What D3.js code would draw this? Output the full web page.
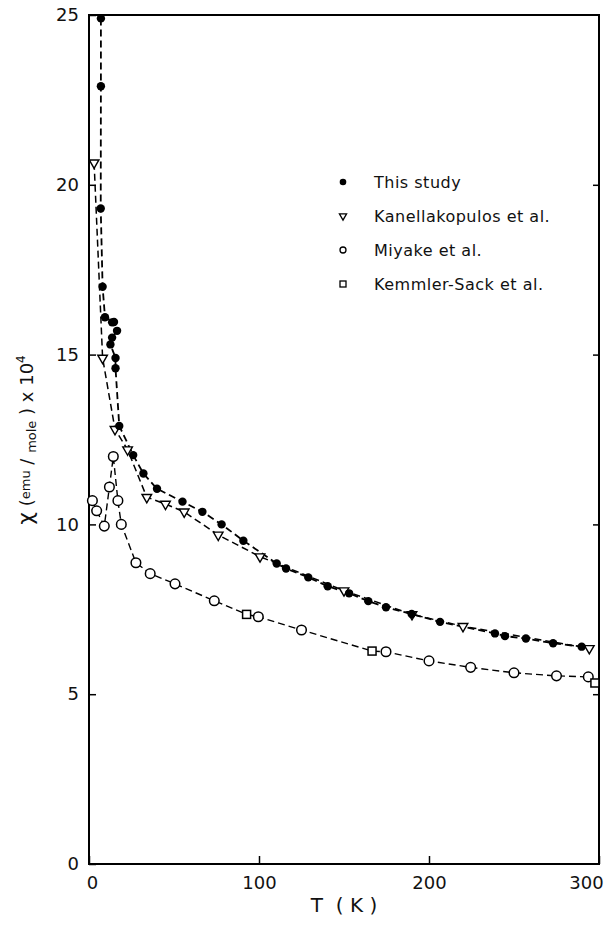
<!DOCTYPE html>
<html><head><meta charset="utf-8">
<script src="https://cdn.jsdelivr.net/npm/d3@7"></script>
<style>body{margin:0;background:#fff}svg{display:block}text{font-family:"DejaVu Sans","Noto Sans",sans-serif;fill:#111}</style>
</head><body><svg id="c" width="614" height="927"></svg>
<script>
// ---- data (T in K, chi in emu/mole x 10^4) ----
const studyT   = [7,7,6.9,8,9.4,14.7,13.6,16.5,13.6,12.6,15.6,15.6,17.8,26,32,40,55,66.7,78,90.8,110.4,115.9,129,140.4,153,164.3,174.7,189.8,206.5,238.8,244.7,257,273,289.8];
const studyChi = [24.9,22.9,19.3,17.0,16.1,15.96,15.95,15.7,15.5,15.3,14.9,14.6,12.9,12.04,11.5,11.05,10.67,10.37,10.0,9.52,8.85,8.70,8.44,8.18,7.97,7.74,7.56,7.36,7.13,6.79,6.71,6.64,6.50,6.40];
const kanT     = [3,8,15.3,22.7,34,45,56,76,100.6,150,190,220,294.3];
const kanChi   = [20.65,14.9,12.8,12.2,10.8,10.6,10.37,9.69,9.05,8.05,7.35,7.0,6.35];
const miyT     = [2,4.5,9,12,14.3,17,19,27.6,36,50.6,73.7,99.6,125,174.7,200,224.5,250,275,293.7];
const miyChi   = [10.7,10.4,9.95,11.1,12.0,10.7,10.0,8.87,8.55,8.25,7.75,7.28,6.89,6.25,5.98,5.79,5.63,5.54,5.51];
const kemT     = [92.7,166.5,297.6];
const kemChi   = [7.35,6.27,5.33];
const xTicks = [0,100,200,300];
const yTicks = [0,5,10,15,20,25];
const legendLabels = ["This study","Kanellakopulos et al.","Miyake et al.","Kemmler-Sack et al."];

const svg = d3.select("#c");
const L=89,R=599,T=15,B=864;
const x = d3.scaleLinear().domain([0,300]).range([L,R]);
const y = d3.scaleLinear().domain([0,25]).range([B,T]);

// frame
svg.append("rect").attr("x",L).attr("y",T).attr("width",R-L).attr("height",B-T)
  .attr("fill","none").attr("stroke","#000").attr("stroke-width",2);

// axes (ticks inward)
const gx = svg.append("g").attr("transform",`translate(0,${B})`)
  .call(d3.axisBottom(x).tickValues(xTicks).tickSize(-8).tickPadding(12).tickFormat(d3.format("d")));
const gy = svg.append("g").attr("transform",`translate(${L},0)`)
  .call(d3.axisLeft(y).tickValues(yTicks).tickSize(-7).tickPadding(10).tickFormat(d3.format("d")));
[gx,gy].forEach(g=>{g.select(".domain").remove();
  g.selectAll("line").attr("stroke","#000").attr("stroke-width",1.5);
  g.selectAll("text").style("font-size","18px").style("font-family","DejaVu Sans, sans-serif").attr("fill","#111");});
gx.selectAll(".tick").filter(d=>d===300).select("text").attr("dx",-13);
gx.selectAll(".tick").filter(d=>d===0).select("text").attr("dx",3);
svg.append("g").attr("transform",`translate(${R},0)`)
  .call(d3.axisRight(y).tickValues([5,10,15,20]).tickSize(-6).tickFormat(""))
  .call(g=>{g.select(".domain").remove();g.selectAll("line").attr("stroke","#000").attr("stroke-width",1.5);});

// lines
const line = d3.line().x(d=>x(d[0])).y(d=>y(d[1]));
const zip=(a,b)=>a.map((v,i)=>[v,b[i]]);
const study=zip(studyT,studyChi), kan=zip(kanT,kanChi), miy=zip(miyT,miyChi), kem=zip(kemT,kemChi);
const lower = miy.concat(kem).sort((a,b)=>a[0]-b[0]);
function dash(data,w){svg.append("path").datum(data).attr("d",line).attr("fill","none")
  .attr("stroke","#000").attr("stroke-width",w).attr("stroke-dasharray","7,4");}
dash(study,1.8); dash(kan,1.5); dash(lower,1.4);

// markers
const tri = d3.symbol().type(d3.symbolTriangle).size(40);
function drawMarkers(data,kind){
  const g=svg.append("g");
  data.forEach(d=>{
    const cx=x(d[0]), cy=y(d[1]);
    if(kind==="dot") g.append("circle").attr("cx",cx).attr("cy",cy).attr("r",4.2).attr("fill","#000");
    else if(kind==="circle") g.append("circle").attr("cx",cx).attr("cy",cy).attr("r",4.8).attr("fill","#fff").attr("stroke","#000").attr("stroke-width",1.5);
    else if(kind==="tri") g.append("path").attr("d",tri).attr("transform",`translate(${cx},${cy}) rotate(180)`).attr("fill","#fff").attr("stroke","#000").attr("stroke-width",1.4);
    else g.append("rect").attr("x",cx-4).attr("y",cy-4).attr("width",8).attr("height",8).attr("fill","#fff").attr("stroke","#000").attr("stroke-width",1.5);
  });
}
drawMarkers(miy,"circle"); drawMarkers(kem,"square"); drawMarkers(kan,"tri"); drawMarkers(study,"dot");

// legend
const kinds=["dot","tri","circle","square"];
const lg = svg.append("g");
legendLabels.forEach((t,i)=>{
  const ly=182+i*34, lx=343;
  const k=kinds[i];
  if(k==="dot") lg.append("circle").attr("cx",lx).attr("cy",ly).attr("r",3.3).attr("fill","#000");
  else if(k==="circle") lg.append("circle").attr("cx",lx).attr("cy",ly).attr("r",3).attr("fill","#fff").attr("stroke","#000").attr("stroke-width",1.3);
  else if(k==="tri") lg.append("path").attr("d",d3.symbol().type(d3.symbolTriangle).size(22)).attr("transform",`translate(${lx},${ly}) rotate(180)`).attr("fill","#fff").attr("stroke","#000").attr("stroke-width",1.3);
  else lg.append("rect").attr("x",lx-3).attr("y",ly-3).attr("width",6).attr("height",6).attr("fill","#fff").attr("stroke","#000").attr("stroke-width",1.3);
  lg.append("text").attr("x",374).attr("y",ly+6).style("font-size","16px").style("letter-spacing","0.5px").text(t);
});

// axis titles
svg.append("text").attr("x",(L+R)/2).attr("y",912).attr("text-anchor","middle")
  .style("font-size","20px").attr("xml:space","preserve").text("T  ( K )");
const yt = svg.append("text").attr("transform","translate(33,440) rotate(-90)").attr("text-anchor","middle").style("font-size","18px");
yt.append("tspan").style("font-size","22px").text("χ");
yt.append("tspan").text("  (");
yt.append("tspan").attr("dy",-3).style("font-size","13px").text("emu");
yt.append("tspan").attr("dy",3).text(" / ");
yt.append("tspan").attr("dy",3).style("font-size","13px").text("mole");
yt.append("tspan").attr("dy",-3).text(" ) x 10");
yt.append("tspan").attr("dy",-8).style("font-size","12px").text("4");
</script></body></html>
